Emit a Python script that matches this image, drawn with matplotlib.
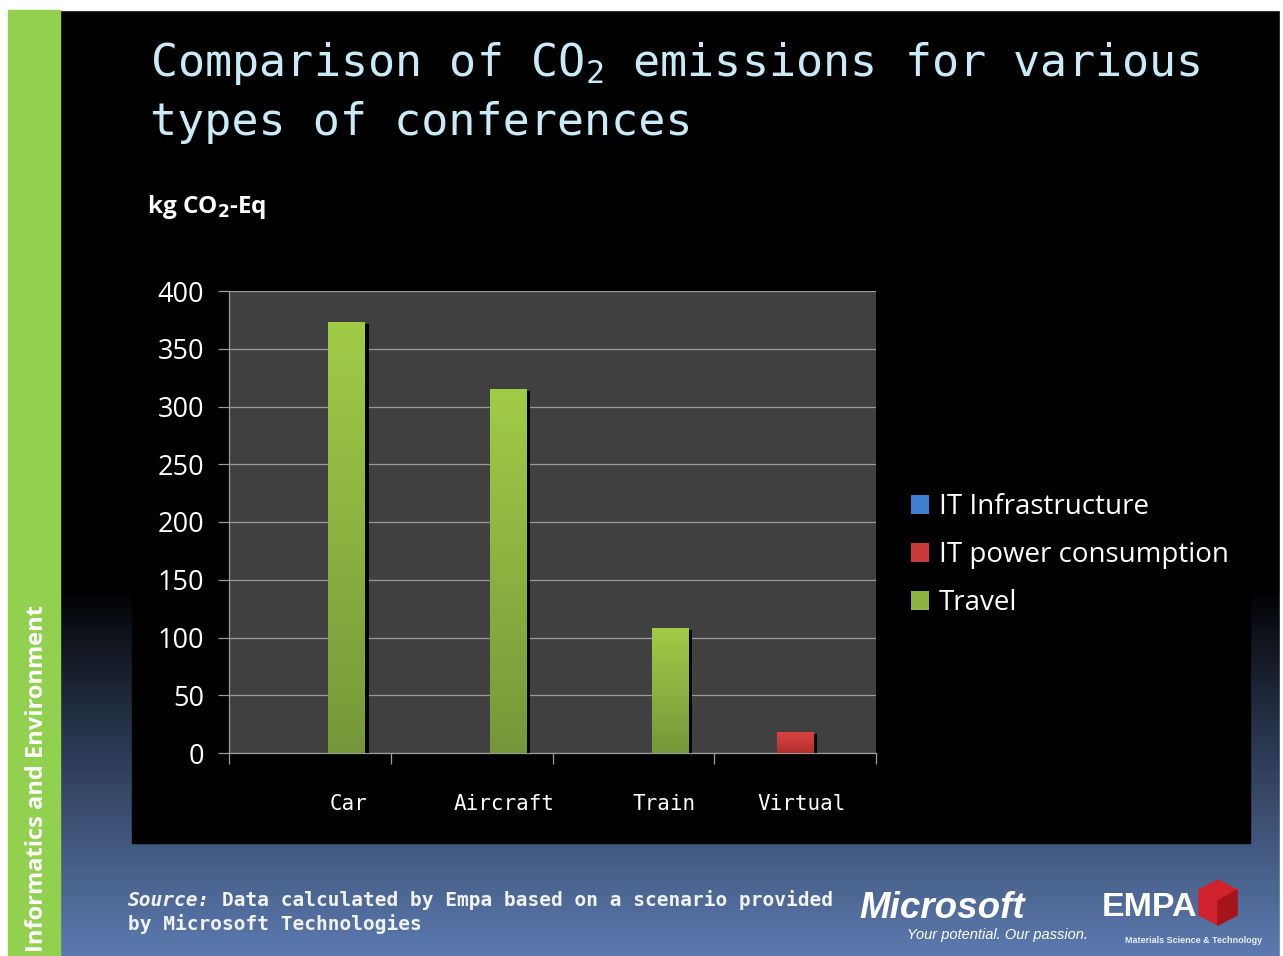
import matplotlib
matplotlib.use("Agg")
import matplotlib.pyplot as plt
import numpy as np
from matplotlib.patches import Rectangle, Patch, Polygon
from matplotlib.colors import LinearSegmentedColormap
from matplotlib.patheffects import SimplePatchShadow, Normal
from matplotlib.transforms import blended_transform_factory

plt.rcParams['mathtext.fontset'] = 'dejavusans'

# data (kg CO2-Eq)
categories = ['Car', 'Aircraft', 'Train', 'Virtual']
series = ['IT Infrastructure', 'IT power consumption', 'Travel']
it_infrastructure = [0, 0, 0, 0]
it_power = [0, 0, 0, 18]
travel = [373, 315, 108, 0]
yticks = [0, 50, 100, 150, 200, 250, 300, 350, 400]

W, H = 1283, 956
fig = plt.figure(figsize=(W / 100, H / 100), dpi=100)

# slide background, drawn in pixel coords
bg = fig.add_axes([0, 0, 1, 1])
bg.set_xlim(0, W)
bg.set_ylim(H, 0)
bg.axis('off')
yy = np.arange(H)
t = np.clip((yy - 590) / (H - 590), 0, 1) ** 0.9
blue = np.array([0.36, 0.48, 0.69])
grad = (t[:, None] * blue[None, :])[:, None, :]
bg.imshow(grad, extent=[0, W, H, 0], aspect='auto', zorder=0)
bg.add_patch(Rectangle((0, 0), W, 10, color='white', zorder=1))
bg.add_patch(Rectangle((0, 0), 8, H, color='white', zorder=1))
bg.add_patch(Rectangle((W - 3, 0), 3, H, color='white', zorder=1))
bg.add_patch(Rectangle((8, 10), 52, H, color='#92d050', zorder=1))
bg.add_patch(Rectangle((132, 240), 1118, 603, color='black', zorder=1))

title_kw = dict(family='DejaVu Sans Mono', fontsize=32.5, color='#c8ebf7', zorder=3)
bg.text(150, 76, r'Comparison of CO$_{\mathtt{2}}$ emissions for various', va='baseline', **title_kw)
bg.text(150, 135, 'types of conferences', va='baseline', **title_kw)

bg.text(147, 207, r'kg CO$_{\mathbf{2}}$-Eq', family='Open Sans', weight='bold',
        fontsize=17.5, color='white', va='center', zorder=3)

bg.text(37, 952, 'Informatics and Environment', rotation=90, ha='center', va='bottom',
        family='Open Sans', weight='bold', fontsize=17, color='white', zorder=3)

# source note: monospace, so the second piece starts 8 characters further right
src_kw = dict(family='DejaVu Sans Mono', fontsize=14, color='#f2f2f2', weight='bold',
              va='baseline', zorder=3)
char_w = 14 * 100 / 72 * 0.602
bg.text(128, 906, 'Source:', style='italic', **src_kw)
bg.text(128 + 8 * char_w, 906, 'Data calculated by Empa based on a scenario provided', **src_kw)
bg.text(128, 930, 'by Microsoft Technologies', **src_kw)

# logos (as text)
bg.text(859, 918, 'Microsoft', family='Liberation Sans', weight='bold', style='italic',
        fontsize=26.5, color='white', va='baseline', zorder=3)
bg.text(907, 939, 'Your potential. Our passion.', family='Liberation Sans', style='italic',
        fontsize=10.5, color='white', va='baseline', zorder=3)
bg.text(1102, 916, 'EMPA', family='Liberation Sans', weight='bold', fontsize=24.5,
        color='white', va='baseline', zorder=3)
bg.add_patch(Polygon([(1218, 880), (1237, 890), (1237, 915), (1218, 925), (1199, 915), (1199, 890)],
                     closed=True, color='#d0222a', zorder=3))
bg.add_patch(Polygon([(1218, 901), (1237, 890), (1237, 915), (1218, 925)],
                     closed=True, color='#a5141b', zorder=3))
bg.text(1125, 943, 'Materials Science & Technology', family='Liberation Sans', weight='bold',
        fontsize=6.5, color='#e8ecf4', va='baseline', zorder=3)

# chart
ax = fig.add_axes([229 / W, 203 / H, 647 / W, 462 / H])
ax.set_facecolor('#404040')
x = np.arange(len(categories))
bw = 0.225
colors = ['#3f7fd0', '#c9393a', '#8ab43f']
grads = [('#2f66b0', '#4a8ee0'), ('#b32f2e', '#da433f'), ('#76983a', '#a0cb47')]
shadow = [SimplePatchShadow(offset=(3, -1), shadow_rgbFace='black', alpha=0.95), Normal()]

for i, (vals, c, g) in enumerate(zip([it_infrastructure, it_power, travel], colors, grads)):
    bars = ax.bar(x + (i - 1) * bw, vals, bw, color=c, zorder=3)
    cmap = LinearSegmentedColormap.from_list('g%d' % i, list(g))
    for p, v in zip(bars.patches, vals):
        if v <= 0:
            p.set_visible(False)
            continue
        p.set_path_effects(shadow)
        im = ax.imshow(np.linspace(0, 1, 64).reshape(-1, 1), cmap=cmap, origin='lower',
                       extent=[p.get_x(), p.get_x() + p.get_width(), 0, v],
                       aspect='auto', zorder=4)
        im.set_clip_path(p)

ax.set_xlim(-0.5, 3.5)
ax.set_ylim(0, 400)
ax.set_yticks(yticks)
ax.yaxis.grid(True, color='#9a9a9a', lw=0.9, zorder=1)
ax.set_axisbelow(True)
for s in ['top', 'right']:
    ax.spines[s].set_visible(False)
for s in ['left', 'bottom']:
    ax.spines[s].set_color('#9a9a9a')
    ax.spines[s].set_linewidth(0.9)
ax.tick_params(axis='y', length=8, width=0.9, color='#9a9a9a', pad=10,
               labelsize=19.5, labelcolor='white')
for lab in ax.get_yticklabels():
    lab.set_family('Open Sans')
ax.set_xticks(np.arange(-0.5, 4, 1))
ax.set_xticklabels([])
ax.tick_params(axis='x', length=8, width=0.9, color='#9a9a9a')

# category labels sit a bit right of the group centres on the slide
label_nudge = [0.24, 0.2, 0.19, 0.04]
tr = blended_transform_factory(ax.transData, ax.transAxes)
for xi, name, dx in zip(x, categories, label_nudge):
    ax.text(xi + dx, -0.11, name, transform=tr, ha='center', va='center',
            family='DejaVu Sans Mono', fontsize=15, color='white')

handles = [Patch(facecolor=c) for c in colors]
ax.legend(handles, series, loc='center left', bbox_to_anchor=(911 / W, (H - 555) / H),
          bbox_transform=fig.transFigure, frameon=False, borderaxespad=0, borderpad=0,
          handlelength=0.65, handleheight=0.65, handletextpad=0.36, labelspacing=0.72,
          labelcolor='white', prop={'family': 'Open Sans', 'size': 20})

fig.savefig('out.png', dpi=100)
